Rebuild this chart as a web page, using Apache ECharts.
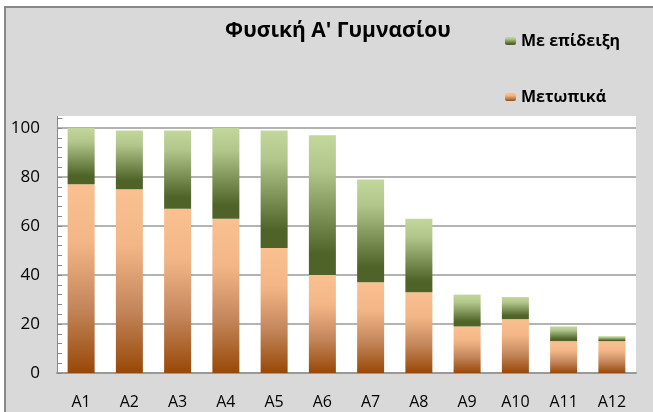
<!DOCTYPE html>
<html>
<head>
<meta charset="utf-8">
<script src="https://cdn.jsdelivr.net/npm/echarts@6/dist/echarts.min.js"></script>
<style>
html,body{margin:0;padding:0;background:#fff;}
#c{width:653px;height:412px;}
</style>
</head>
<body>
<div id="c"></div>
<script>
var categories = ['A1','A2','A3','A4','A5','A6','A7','A8','A9','A10','A11','A12'];
var frontal = [77, 75, 67, 63, 51, 40, 37, 33, 19, 22, 13, 13];      // Μετωπικά
var demo = [23, 24, 32, 37, 48, 57, 42, 30, 13, 9, 6, 2];            // Με επίδειξη
var yTicks = [0, 20, 40, 60, 80, 100];

var FONT = 'Open Sans';
var chart = echarts.init(document.getElementById('c'));

var orangeGrad = new echarts.graphic.LinearGradient(0, 0, 0, 1, [
  {offset: 0, color: '#fac090'},
  {offset: 0.3, color: '#f3b787'},
  {offset: 0.65, color: '#c4875c'},
  {offset: 1, color: '#984807'}
]);
var greenGrad = new echarts.graphic.LinearGradient(0, 0, 0, 1, [
  {offset: 0, color: '#c3d69b'},
  {offset: 0.25, color: '#b2c68c'},
  {offset: 0.85, color: '#4f6228'},
  {offset: 1, color: '#4f6228'}
]);

var option = {
  backgroundColor: 'transparent',
  animation: false,
  graphic: [
    {type: 'rect', z: -10, shape: {x: 5, y: 7, width: 660, height: 420},
      style: {fill: '#d9d9d9', stroke: '#888888', lineWidth: 2}},
    {type: 'rect', z: -9, shape: {x: 57, y: 116, width: 579, height: 257},
      style: {fill: '#ffffff'}},
    {type: 'line', z: 5, shape: {x1: 57.5, y1: 116, x2: 57.5, y2: 128},
      style: {stroke: '#888888', lineWidth: 1}},
    {type: 'line', z: 5, shape: {x1: 57.5, y1: 118.5, x2: 62.5, y2: 118.5},
      style: {stroke: '#888888', lineWidth: 1}}
  ],
  title: {
    text: 'Φυσική Α\' Γυμνασίου',
    left: 333, top: 16, textAlign: 'center',
    textStyle: {fontFamily: FONT, fontWeight: 'bold', fontSize: 21, color: '#000'}
  },
  legend: {
    orient: 'vertical',
    left: 500, top: 26,
    itemWidth: 11, itemHeight: 8,
    itemGap: 36,
    data: ['Με επίδειξη', 'Μετωπικά'],
    textStyle: {fontFamily: FONT, fontWeight: 'bold', fontSize: 16, color: '#000', lineHeight: 20}
  },
  grid: {left: 57, right: 17, top: 128, bottom: 39, containLabel: false},
  xAxis: {
    type: 'category',
    data: categories,
    axisLine: {lineStyle: {color: '#999999', width: 2}},
    axisTick: {show: false},
    axisLabel: {fontFamily: FONT, fontSize: 16, color: '#000', margin: 21}
  },
  yAxis: {
    type: 'value',
    min: yTicks[0], max: yTicks[yTicks.length - 1], interval: 20,
    axisLine: {show: true, lineStyle: {color: '#888888', width: 1}},
    axisTick: {show: true, inside: true, length: 5, lineStyle: {color: '#888888'}},
    minorTick: {show: true, splitNumber: 5, length: 5, lineStyle: {color: '#888888'}},
    splitLine: {show: true, lineStyle: {color: '#9a9a9a', width: 1.5}},
    axisLabel: {fontFamily: FONT, fontSize: 17, color: '#000', margin: 17}
  },
  series: [
    {name: 'Μετωπικά', type: 'bar', stack: 'all', data: frontal, barWidth: 27,
      itemStyle: {color: orangeGrad}},
    {name: 'Με επίδειξη', type: 'bar', stack: 'all', data: demo, barWidth: 27,
      itemStyle: {color: greenGrad}}
  ]
};
chart.setOption(option);
</script>
</body>
</html>
